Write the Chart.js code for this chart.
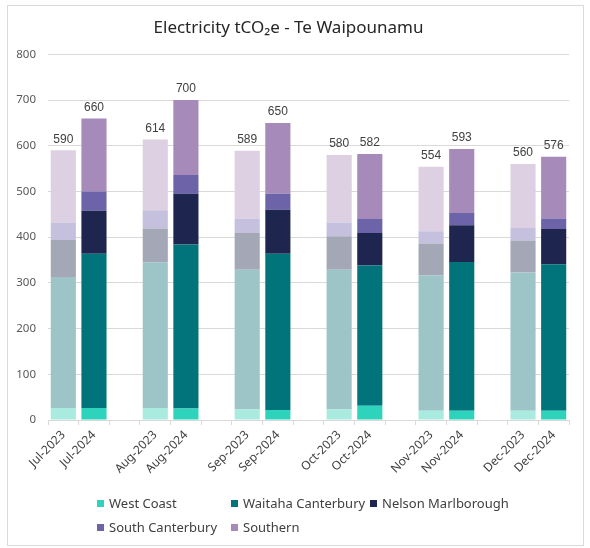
<!DOCTYPE html>
<html>
<head>
<meta charset="utf-8">
<script src="https://cdn.jsdelivr.net/npm/chart.js@4.4.1/dist/chart.umd.min.js"></script>
<style>
  body { margin: 0; background: #fff; }
  #wrap { position: relative; width: 590px; height: 548px; }
  #frame { position: absolute; left: 7px; top: 5px; width: 575px; height: 539px; border: 1px solid #d9d9d9; }
  #myChart { position: absolute; left: 0; top: 0; }
  .leg { position: absolute; font: 13px "Noto Sans", sans-serif; color: #404040; white-space: nowrap; line-height: 16px; }
  .leg span { display: inline-block; width: 7px; height: 7px; margin-right: 5px; vertical-align: 1px; }
</style>
</head>
<body>
<div id="wrap">
  <div id="frame"></div>
  <canvas id="myChart" width="590" height="548"></canvas>
  <div id="legend"></div>
</div>
<script>
const barLabels = ['Jul-2023', 'Jul-2024', 'Aug-2023', 'Aug-2024', 'Sep-2023', 'Sep-2024',
                   'Oct-2023', 'Oct-2024', 'Nov-2023', 'Nov-2024', 'Dec-2023', 'Dec-2024'];

const westCoast          = [26, 26, 26, 25, 23, 22, 23, 31, 20, 20, 20, 20];
const waitahaCanterbury  = [287, 338, 319, 359, 306, 342, 306, 307, 296, 326, 303, 321];
const nelsonMarlborough  = [81, 94, 74, 111, 80, 96, 73, 71, 70, 80, 70, 77];
const southCanterbury    = [38, 42, 40, 41, 32, 35, 30, 31, 27, 27, 27, 23];
const southern           = [158, 160, 155, 164, 148, 155, 148, 142, 141, 140, 140, 135];

const seriesNames  = ['West Coast', 'Waitaha Canterbury', 'Nelson Marlborough', 'South Canterbury', 'Southern'];
const fullColors   = ['#2ed3bb', '#00747a', '#1e2650', '#6c63a9', '#a68ab9'];
const lightColors  = ['#a9ebdf', '#9dc5c8', '#a4a8b6', '#c4c0dd', '#ddd0e2'];

// put an empty slot between each month pair
const labels = [];
const slot = [];
barLabels.forEach((l, i) => {
    labels.push(l);
    slot.push(i);
    if (i % 2 == 1 && i < barLabels.length - 1) {
        labels.push('');
        slot.push(-1);
    }
});

function spread(arr) {
    return slot.map(s => s < 0 ? null : arr[s]);
}

const allSeries = [westCoast, waitahaCanterbury, nelsonMarlborough, southCanterbury, southern];

const datasets = allSeries.map((arr, k) => ({
    label: seriesNames[k],
    data: spread(arr),
    backgroundColor: slot.map(s => (s >= 0 && s % 2 == 0) ? lightColors[k] : fullColors[k]),
    borderWidth: 0,
    barPercentage: 0.82,
    categoryPercentage: 1.0
}));

const totalsPlugin = {
    id: 'totals',
    afterDatasetsDraw(chart) {
        const ctx = chart.ctx;
        const meta = chart.getDatasetMeta(chart.data.datasets.length - 1);
        ctx.save();
        ctx.font = '12px "Liberation Sans", sans-serif';
        ctx.fillStyle = '#404040';
        ctx.textAlign = 'center';
        ctx.textBaseline = 'bottom';
        slot.forEach((s, i) => {
            if (s < 0) return;
            let total = 0;
            allSeries.forEach(arr => total += arr[s]);
            const el = meta.data[i];
            ctx.fillText(total, el.x, el.y - 5);
        });
        ctx.restore();
    }
};

const ctx = document.getElementById('myChart').getContext('2d');
const myChart = new Chart(ctx, {
    type: 'bar',
    data: { labels: labels, datasets: datasets },
    options: {
        responsive: false,
        animation: false,
        layout: { padding: { left: 8, right: 21, top: 0, bottom: 70 } },
        plugins: {
            legend: { display: false },
            tooltip: { enabled: false },
            title: {
                display: true,
                text: 'Electricity tCO\u2082e - Te Waipounamu',
                color: '#262626',
                font: { family: '"Noto Sans", sans-serif', size: 17, weight: 'normal' },
                padding: { top: 18, bottom: 16 }
            }
        },
        scales: {
            x: {
                stacked: true,
                grid: { offset: true, drawOnChartArea: false, drawTicks: true, tickLength: 5, color: '#d9d9d9' },
                border: { color: '#d9d9d9' },
                ticks: {
                    autoSkip: false, maxRotation: 45, minRotation: 45,
                    color: '#404040',
                    font: { family: '"Noto Sans", sans-serif', size: 12 }
                },
                afterFit(scale) { scale.height = 58; }
            },
            y: {
                stacked: true,
                min: 0, max: 800,
                ticks: {
                    stepSize: 100, padding: 12,
                    color: '#595959',
                    font: { family: '"Noto Sans", sans-serif', size: 11.5 }
                },
                grid: { color: '#d9d9d9', drawTicks: false },
                border: { display: false },
                afterFit(scale) { scale.width = 40; }
            }
        }
    },
    plugins: [totalsPlugin]
});

// legend laid out in columns like the original
const legendPos = [[97, 495], [231, 495], [370, 495], [97, 519], [231, 519]];
const legendDiv = document.getElementById('legend');
seriesNames.forEach((name, k) => {
    const d = document.createElement('div');
    d.className = 'leg';
    d.style.left = legendPos[k][0] + 'px';
    d.style.top = legendPos[k][1] + 'px';
    d.innerHTML = '<span style="background:' + fullColors[k] + '"></span>' + name;
    legendDiv.appendChild(d);
});
</script>
</body>
</html>
